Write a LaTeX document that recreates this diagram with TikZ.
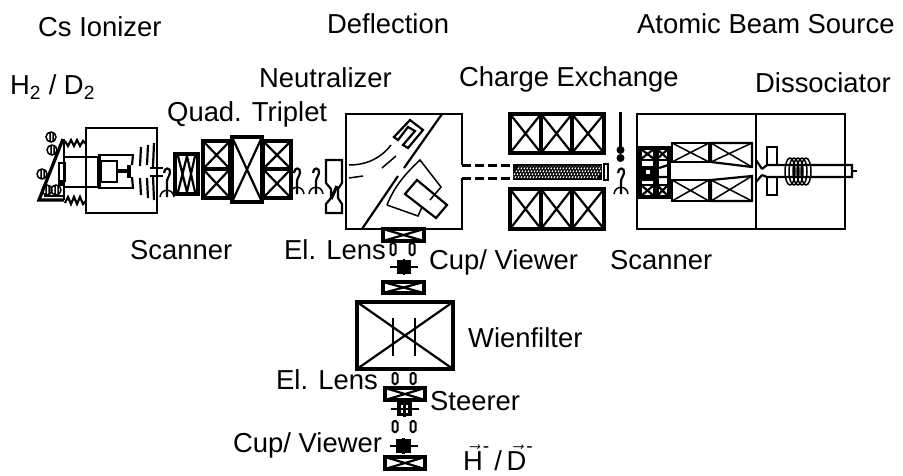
\documentclass[tikz,border=0pt]{standalone}
\usepackage{amsmath}
\usepackage{fontspec}
\setmainfont{Liberation Sans}
\begin{document}
\begin{tikzpicture}[
    x=1pt, y=-1pt,
    line join=miter,
    label/.style={font=\fontsize{27.4}{30}\selectfont, inner sep=0pt, anchor=west},
    thinline/.style={line width=1.5pt},
    wall/.style={line width=2.2pt},
    heavy/.style={line width=3.2pt},
    plate/.style={draw, line width=2pt, fill=white, rounded corners=1.8pt}
]
    \useasboundingbox (0,0) rectangle (903,475);

    % Labels
    \node[label] (csionizer) at (38,27) {Cs Ionizer};
    \node[label] (deflection) at (327,24) {Deflection};
    \node[label] (abs) at (637,24) {Atomic Beam Source};
    \node[label] (gas) at (10,87) {H$_{\text{2}}$ / D$_{\text{2}}$};
    \node[label] (neutralizer) at (259,78) {Neutralizer};
    \node[label] (chargeex) at (459,79) {Charge Exchange};
    \node[label] (dissociator) at (755,83) {Dissociator};
    \node[label] (quadtriplet) at (167,114) {Quad. Triplet};
    \node[label] (scannerl) at (130,250) {Scanner};
    \node[label] (lensa) at (284,250) {El. Lens};
    \node[label] (cupa) at (429,262) {Cup/ Viewer};
    \node[label] (scannerr) at (610,260) {Scanner};
    \node[label] (wien) at (468,338) {Wienfilter};
    \node[label] (lensb) at (276,380) {El. Lens};
    \node[label] (steerer) at (430,401) {Steerer};
    \node[label] (cupb) at (233,445) {Cup/ Viewer};
    \node[label] (polbeam) at (463,458) {$\vec{\text{H}}^{\text{-}}$\,/\,$\vec{\text{D}}^{\text{-}}$};

    % Ionizer
    \draw[wall] (86,128) rectangle (157,213);
    \draw[heavy] (63,139) -- (39,200) -- (64,200);
    \draw[wall] (64,139) -- (64,200);
    \draw[wall] (44,196) -- (64,196);
    \draw[wall] (65,157) -- (98,157) -- (98,187) -- (65,187);
    \draw[wall] (59,163) rectangle (65,181);
    \fill (58,181) rectangle (65,186);
    \draw[wall] (98,155) -- (134,155);
    \draw[wall] (98,188) -- (134,188);
    \draw[wall] (100,155) -- (100,188);
    \draw[wall] (101,161) rectangle (117,182);
    \draw[heavy] (117,171) -- (129,171);
    \draw[heavy] (129,165) -- (129,178);
    \foreach \cx/\cy in {51/137, 52/150, 42/174, 47/190, 56/190}
        \draw[thinline] (\cx,\cy) circle (5) (\cx-1,\cy-5) -- (\cx-1,\cy+5) (\cx+2,\cy-5) -- (\cx+2,\cy+5);
    \draw[wall] (65,141) -- (68,146) -- (71,140) -- (74,146) -- (77,140) -- (80,146) -- (83,141) -- (86,144);
    \draw[wall] (65,203) -- (68,197) -- (71,204) -- (74,197) -- (77,204) -- (80,197) -- (83,204) -- (86,201);
    \foreach \ex/\ya/\yb/\yc/\yd in {133/155/165/177/188, 141/147/166/178/195, 148/145/165/178/198, 154/143/167/176/200} {
        \draw[wall] (\ex,\ya) -- (\ex-1,\yb);
        \draw[wall] (\ex-1,\yc) -- (\ex,\yd);
    }
    \draw[wall] (150,168) -- (163,168);
    \draw[wall] (150,176) -- (163,176);

    % Scanners
    \foreach \hx/\hy in {167/197,297/194,316/194,621/194} {
        \draw[wall] (\hx-3,173) .. controls (\hx-3,167) and (\hx+4,167) .. (\hx+3,173) .. controls (\hx+2,177) and (\hx,178) .. (\hx,182) -- (\hx,\hy);
        \draw[thinline] (\hx-7,\hy) .. controls (\hx-6,\hy-9) and (\hx+6,\hy-9) .. (\hx+7,\hy);
    }

    % Quadrupoles
    \draw[heavy] (175,154) rectangle (198,194);
    \draw[wall] (178,156) -- (187,192) (187,156) -- (178,192) (187,156) -- (195,192) (195,156) -- (187,192);
    \foreach \xa/\ya/\xb/\yb in {203/141/230/169, 203/169/230/198, 263/141/291/169, 263/169/291/198} {
        \draw[heavy] (\xa,\ya) rectangle (\xb,\yb);
        \draw[wall] (\xa,\ya) -- (\xb,\yb) (\xa,\yb) -- (\xb,\ya);
    }
    \draw[heavy] (232,137) rectangle (262,202);
    \draw[wall] (232,137) -- (262,202) (232,202) -- (262,137);

    % Neutralizer
    \draw[wall] (326,160) -- (342,160) -- (342,183) -- (338,189) -- (338,198) -- (342,204) -- (342,213) -- (326,213) -- (326,204) -- (331,198) -- (331,189) -- (326,183) -- cycle;
    \draw[heavy] (331,199) -- (337,186);

    % Deflection
    \draw[wall] (462,165) -- (462,114) -- (346,114) -- (346,229) -- (462,229) -- (462,178);
    \draw[wall] (442,114) -- (404,168);
    \draw[wall] (398,176) -- (362,229);
    \draw[wall] (410,120) -- (423,130) -- (408,148) -- (403,145) -- (415,131) -- (408,127) -- (398,140) -- (394,137) -- cycle;
    \draw[thinline] (387,205) .. controls (394,187) and (405,174) .. (420,160) -- (441,187) -- (430,200);
    \draw[thinline] (387,205) -- (418,216) -- (422,207);
    \draw[wall] (417,180) -- (447,205) -- (436,218) -- (405,194) -- cycle;
    \draw[thinline] (349,165) .. controls (368,165) and (382,157) .. (391,145);
    \draw[thinline] (349,178) -- (363,176);
    \draw[thinline] (382,168) -- (396,156);
    \draw[heavy, dash pattern=on 9pt off 4pt] (462,165.5) -- (513,165.5);
    \draw[heavy, dash pattern=on 9pt off 4pt] (462,178.5) -- (513,178.5);

    % Charge exchange
    \foreach \xa/\xb in {510/541, 541/572, 572/604} {
        \draw[heavy] (\xa,114) rectangle (\xb,153);
        \draw[wall] (\xa,114) -- (\xb,153) (\xa,153) -- (\xb,114);
        \draw[heavy] (\xa,189) rectangle (\xb,229);
        \draw[wall] (\xa,189) -- (\xb,229) (\xa,229) -- (\xb,189);
    }
    \fill (513,164) rectangle (602,180);
    \foreach \sx in {512,515,...,596}
        \draw[white, line width=1pt, dash pattern=on 2pt off 1.5pt] (\sx,178) -- (\sx+8,166);
    \draw[wall] (604,164) rectangle (608,180);

    % Beam stop
    \draw[heavy] (620.5,112) -- (620.5,150);
    \fill (620.5,150) circle (4);
    \fill (620.5,158) circle (4);

    % Atomic beam source
    \draw[wall] (637,114) rectangle (845,229);
    \draw[wall] (756,114) -- (756,229);
    \draw[heavy] (640,148) rectangle (669,197);
    \fill (653,148) rectangle (659,197);
    \fill (641,166) rectangle (655,181);
    \fill[white] (646,170) rectangle (650,174);
    \foreach \xa/\ya/\xb/\yb in {641/149/654/159, 657/149/668/159, 641/185/654/196, 657/185/668/196} {
        \draw[wall] (\xa,\ya) -- (\xb,\yb) (\xa,\yb) -- (\xb,\ya);
    }
    \draw[wall] (640,160) -- (669,160) (640,185) -- (669,185);
    \draw[wall] (659,168) -- (668,165) (659,177) -- (668,177);
    \draw[wall] (672,143) rectangle (709,162);
    \draw[thinline] (672,143) -- (709,162) (672,162) -- (709,143);
    \draw[wall] (672,180) rectangle (709,201);
    \draw[thinline] (672,180) -- (709,201) (672,201) -- (709,180);
    \draw[wall] (711,143) -- (752,143) -- (752,167) -- (711,162) -- cycle;
    \draw[thinline] (711,143) -- (752,167) (711,162) -- (752,143);
    \draw[wall] (711,180) -- (752,176) -- (752,201) -- (711,201) -- cycle;
    \draw[thinline] (711,180) -- (752,201) (711,201) -- (752,176);
    \draw[wall] (756,160) -- (762,169) (756,182) -- (762,175);
    \draw[wall] (762,169) -- (767,165) -- (852,165) -- (852,177) -- (767,177) -- (762,175);
    \draw[wall] (852,171) -- (857,171);
    \draw[wall] (767,147) rectangle (777,165);
    \draw[wall] (767,177) rectangle (777,195);
    \foreach \cx in {790,794,...,807}
        \draw[thinline] (\cx,171.5) ellipse (5 and 13.5);

    % Lower beam line
    \foreach \xa/\ya/\xb/\yb in {383/229/424/241, 383/282/424/293, 385/388/425/400, 385/457/425/469} {
        \draw[heavy] (\xa,\ya) rectangle (\xb,\yb);
        \draw[wall] (\xa,\ya) -- (\xb,\yb) (\xa,\yb) -- (\xb,\ya);
    }
    \foreach \ex/\ya/\yb in {393/243/255, 412/243/255, 395/373/384, 413/373/384, 395/421/432, 413/421/432}
        \draw[plate] (\ex-2.5,\ya) rectangle (\ex+2.5,\yb);
    \foreach \cy/\cx in {267/404, 409/404.5, 446/403.5} {
        \draw[wall] (\cx-14,\cy) -- (\cx+14,\cy);
        \draw[wall] (\cx,\cy-8) -- (\cx,\cy+8);
        \draw[heavy] (\cx-5.5,\cy-5.5) rectangle (\cx+5.5,\cy+5.5);
    }
    \fill (399,441) rectangle (408,451);
    \fill (400,262) rectangle (408,272);

    % Wien filter
    \draw[heavy] (357,302) rectangle (453,369);
    \draw[wall] (357,302) -- (453,369) (357,369) -- (453,302);
    \draw[wall] (393,318) -- (393,356);
    \draw[wall] (415,318) -- (415,356);
\end{tikzpicture}
\end{document}
